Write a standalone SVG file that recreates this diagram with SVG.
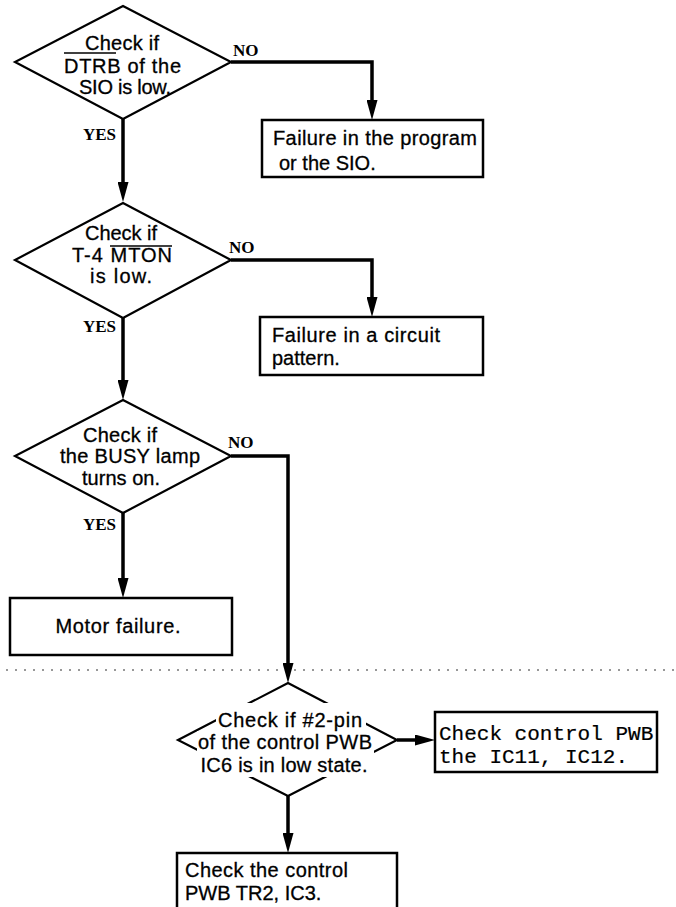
<svg xmlns="http://www.w3.org/2000/svg" width="676" height="907" viewBox="0 0 676 907">
<style>
.bg{fill:#fff}
.dia{fill:none;stroke:#000;stroke-width:2.2;stroke-linejoin:miter}
.box{fill:#fff;stroke:#000;stroke-width:2.5}
.t{font-family:"Liberation Sans",Arial,sans-serif;font-size:20px;fill:#000;stroke:#000;stroke-width:0.3}
.c{text-anchor:middle}
.m{font-family:"Liberation Mono","Courier New",monospace;font-size:21px;fill:#000;stroke:#000;stroke-width:0.2}
.lbl{font-family:"Liberation Serif","Times New Roman",serif;font-size:17px;font-weight:bold;fill:#000}
.ov{stroke:#000;stroke-width:1.6}
.conn{fill:none;stroke:#000;stroke-width:3.5;marker-end:url(#ah)}
.knock{fill:#fff}
.dots{stroke:#777;stroke-width:1.3;stroke-dasharray:2 7;fill:none}
</style>
<defs>
<marker id="ah" markerUnits="userSpaceOnUse" viewBox="0 0 20 11" markerWidth="20" markerHeight="11" refX="10" refY="5.5" orient="auto">
<path d="M0,0 L20,5.5 L0,11 z" fill="#000"/>
</marker>
</defs>
<rect class="bg" x="0" y="0" width="676" height="907"/>

<g id="d1">
<polygon class="dia" points="123,6 231,62 123,119 15,62"/>
<text class="t c" x="122" y="50" textLength="74">Check if</text>
<text class="t" x="64" y="73" textLength="117">DTRB of the</text>
<line class="ov" x1="64" y1="53" x2="116" y2="53"/>
<text class="t c" x="125" y="94" textLength="92">SIO is low.</text>
</g>

<g id="b1">
<rect class="box" x="262" y="120" width="221" height="57"/>
<text class="t" x="273" y="145" textLength="204">Failure in the program</text>
<text class="t" x="279" y="170"> or the SIO.</text>
</g>

<g id="d2">
<polygon class="dia" points="123,203 231,260 123,318 15,260"/>
<text class="t c" x="121" y="240" textLength="72">Check if</text>
<text class="t c" x="122" y="262" textLength="100">T-4 MTON</text>
<line class="ov" x1="110" y1="246" x2="172" y2="246"/>
<text class="t c" x="121" y="283" textLength="62">is low.</text>
</g>

<g id="b2">
<rect class="box" x="260" y="317" width="223" height="58"/>
<text class="t" x="272" y="342" textLength="168">Failure in a circuit</text>
<text class="t" x="272" y="365">pattern.</text>
</g>

<g id="d3">
<polygon class="dia" points="123,400 231,456 123,513 15,456"/>
<text class="t c" x="120" y="442" textLength="74">Check if</text>
<text class="t c" x="130" y="463" textLength="140">the BUSY lamp</text>
<text class="t c" x="121" y="485" textLength="78">turns on.</text>
</g>

<g id="b3">
<rect class="box" x="10" y="598" width="222" height="57"/>
<text class="t c" x="118" y="633" textLength="125">Motor failure.</text>
</g>

<path class="dots" d="M6,670 H676"/>

<g id="d4">
<polygon class="dia" points="288,683 397,740 288,796 178,740"/>
<rect class="knock" x="216" y="703" width="150" height="26"/>
<rect class="knock" x="197" y="731" width="177" height="46"/>
<text class="t c" x="290" y="727" textLength="144">Check if #2-pin</text>
<text class="t c" x="285" y="749" textLength="174">of the control PWB</text>
<text class="t c" x="284" y="772" textLength="167">IC6 is in low state.</text>
</g>

<g id="b4">
<rect class="box" x="435" y="712" width="222" height="60"/>
<text class="m" x="439" y="740">Check control PWB</text>
<text class="m" x="439" y="763">the IC11, IC12.</text>
</g>

<g id="b5">
<rect class="box" x="177" y="853" width="220" height="62"/>
<text class="t" x="185" y="877" textLength="163">Check the control</text>
<text class="t" x="185" y="900">PWB TR2, IC3.</text>
</g>

<g id="connectors">
<path class="conn" d="M123,119 V192"/>
<path class="conn" d="M231,62 H372 V110"/>
<path class="conn" d="M123,318 V390"/>
<path class="conn" d="M231,260 H372 V307"/>
<path class="conn" d="M123,513 V588"/>
<path class="conn" d="M231,456 H288 V673"/>
<path class="conn" d="M397,740 H425"/>
<path class="conn" d="M288,796 V843"/>
<text class="lbl" x="233" y="56">NO</text>
<text class="lbl" x="116" y="140" text-anchor="end">YES</text>
<text class="lbl" x="229" y="253">NO</text>
<text class="lbl" x="116" y="332" text-anchor="end">YES</text>
<text class="lbl" x="228" y="448">NO</text>
<text class="lbl" x="116" y="530" text-anchor="end">YES</text>
</g>
</svg>
